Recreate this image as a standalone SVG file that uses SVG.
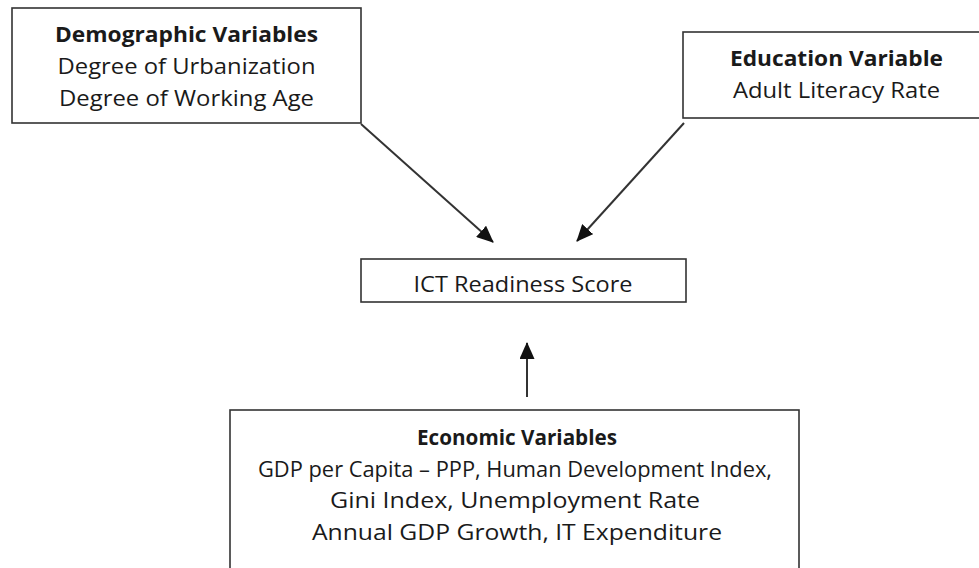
<svg xmlns="http://www.w3.org/2000/svg" width="979" height="568" viewBox="0 0 979 568">
<style>
.box{fill:#ffffff;stroke:#333333;stroke-width:1.6}
.t{font-family:"Open Sans","Liberation Sans",sans-serif;font-size:22px;fill:#1a1a1a;text-anchor:middle}
.b{font-weight:bold}
.c{stroke:#333333;stroke-width:2;fill:none;marker-end:url(#ah)}
</style>
<defs>
<marker id="ah" markerUnits="userSpaceOnUse" markerWidth="17" markerHeight="15" refX="16" refY="7.5" orient="auto">
<path d="M0,0 L17,7.5 L0,15 Z" fill="#111111"/>
</marker>
</defs>
<rect width="979" height="568" fill="#ffffff"/>
<g id="demographic">
<rect class="box" x="12" y="8" width="349" height="115"/>
<text class="t b" x="186.5" y="42" textLength="263" lengthAdjust="spacingAndGlyphs">Demographic Variables</text>
<text class="t" x="186.5" y="74" textLength="258" lengthAdjust="spacingAndGlyphs">Degree of Urbanization</text>
<text class="t" x="186.5" y="106" textLength="255" lengthAdjust="spacingAndGlyphs">Degree of Working Age</text>
</g>
<g id="education">
<rect class="box" x="683" y="32" width="310" height="86"/>
<text class="t b" x="836.5" y="66" textLength="213" lengthAdjust="spacingAndGlyphs">Education Variable</text>
<text class="t" x="836.5" y="98" textLength="207" lengthAdjust="spacingAndGlyphs">Adult Literacy Rate</text>
</g>
<g id="ict">
<rect class="box" x="361" y="259" width="325" height="43"/>
<text class="t" x="523" y="292" textLength="219" lengthAdjust="spacingAndGlyphs">ICT Readiness Score</text>
</g>
<g id="economic">
<rect class="box" x="230" y="410" width="569" height="175"/>
<text class="t b" x="517" y="445" textLength="200" lengthAdjust="spacingAndGlyphs">Economic Variables</text>
<text class="t" x="515" y="477" textLength="514" lengthAdjust="spacingAndGlyphs">GDP per Capita – PPP, Human Development Index,</text>
<text class="t" x="515" y="508" textLength="370" lengthAdjust="spacingAndGlyphs">Gini Index, Unemployment Rate</text>
<text class="t" x="517" y="540" textLength="410" lengthAdjust="spacingAndGlyphs">Annual GDP Growth, IT Expenditure</text>
</g>
<g id="connectors">
<line class="c" x1="361" y1="124" x2="493" y2="242"/>
<line class="c" x1="684" y1="123" x2="577" y2="241"/>
<line class="c" x1="527" y1="397" x2="527" y2="343"/>
</g>
</svg>
